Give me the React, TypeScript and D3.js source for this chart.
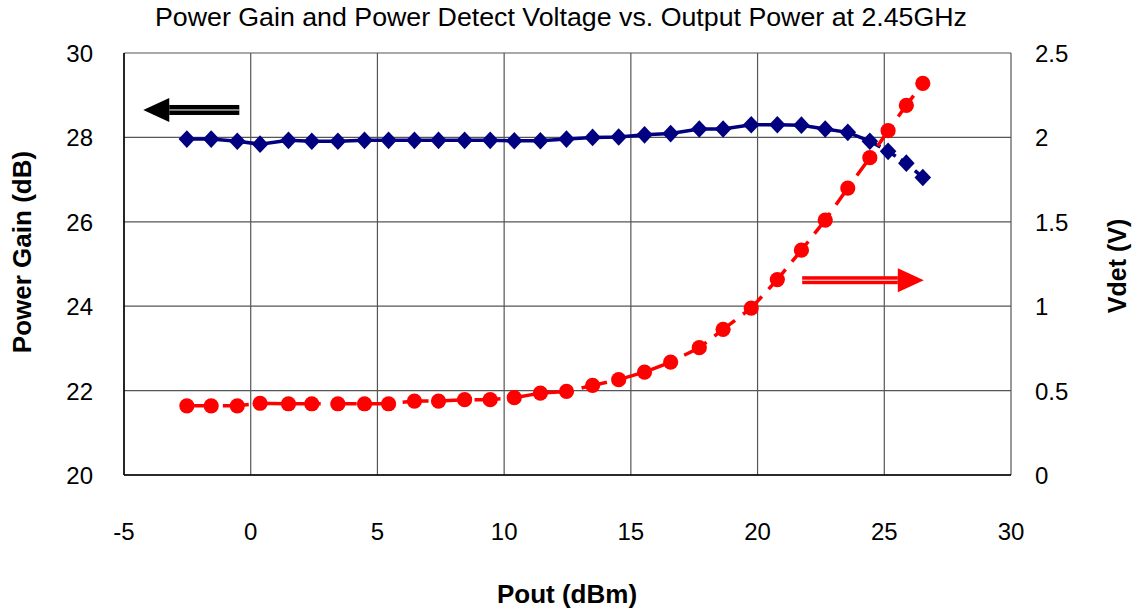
import React, { useRef, useEffect } from "react";
import * as d3 from "d3";

// output power (dBm) for each measured step
const pout = [
    -2.52, -1.56, -0.53, 0.37, 1.49, 2.41, 3.44, 4.49, 5.44, 6.46, 7.41, 8.44,
    9.45, 10.4, 11.43, 12.46, 13.49, 14.52, 15.54, 16.57, 17.7, 18.64, 19.75,
    20.78, 21.73, 22.67, 23.56, 24.43, 25.15, 25.87, 26.52,
];

// power gain (dB), left axis
const gain = [
    27.96, 27.96, 27.91, 27.84, 27.93, 27.91, 27.91, 27.93, 27.93, 27.93, 27.93,
    27.93, 27.93, 27.92, 27.92, 27.96, 28.0, 28.01, 28.06, 28.09, 28.2, 28.2,
    28.3, 28.3, 28.29, 28.2, 28.12, 27.91, 27.67, 27.39, 27.05,
];

// detector voltage (V), right axis
const vdet = [
    0.41, 0.41, 0.41, 0.425, 0.422, 0.422, 0.422, 0.422, 0.422, 0.438, 0.438,
    0.446, 0.446, 0.458, 0.485, 0.495, 0.531, 0.565, 0.61, 0.669, 0.754, 0.863,
    0.989, 1.158, 1.332, 1.51, 1.7, 1.88, 2.04, 2.19, 2.32,
];

const xTicks = [-5, 0, 5, 10, 15, 20, 25, 30];
const gainTicks = [20, 22, 24, 26, 28, 30];
const vdetTicks = [0, 0.5, 1, 1.5, 2, 2.5];

// arrow annotations, in data units
const gainArrow = { from: -0.45, to: -4.24, at: 28.65 };
const vdetArrow = { from: 21.76, to: 26.56, at: 1.154 };

const title = "Power Gain and Power Detect Voltage vs. Output Power at 2.45GHz";

export default function App() {
    const svgRef = useRef<SVGSVGElement | null>(null);

    useEffect(() => {
        if (!svgRef.current) return;

        const width = 1136;
        const height = 613;
        const margin = { top: 53, right: 125, bottom: 138, left: 124 };
        const font = "'Liberation Sans', Arial, sans-serif";

        const svg = d3.select(svgRef.current);
        svg.selectAll("*").remove();

        const x = d3
            .scaleLinear()
            .domain([-5, 30])
            .range([margin.left, width - margin.right]);
        const yL = d3
            .scaleLinear()
            .domain([20, 30])
            .range([height - margin.bottom, margin.top]);
        const yR = d3
            .scaleLinear()
            .domain([0, 2.5])
            .range([height - margin.bottom, margin.top]);

        // grid
        const grid = svg.append("g").attr("stroke", "#555").attr("stroke-width", 1.2);
        xTicks.forEach((t) => {
            grid.append("line")
                .attr("x1", x(t)).attr("x2", x(t))
                .attr("y1", yL(20)).attr("y2", yL(30));
        });
        gainTicks.forEach((t) => {
            grid.append("line")
                .attr("x1", x(-5)).attr("x2", x(30))
                .attr("y1", yL(t)).attr("y2", yL(t));
        });
        svg.append("line")
            .attr("x1", x(-5)).attr("x2", x(-5))
            .attr("y1", yL(20)).attr("y2", yL(30))
            .attr("stroke", "#000").attr("stroke-width", 1.5);
        svg.append("line")
            .attr("x1", x(-5)).attr("x2", x(30))
            .attr("y1", yL(20)).attr("y2", yL(20))
            .attr("stroke", "#000").attr("stroke-width", 1.5);

        // tick labels
        const txt = svg.append("g").attr("font-family", font).attr("font-size", 24).attr("fill", "#000");
        xTicks.forEach((t) => {
            txt.append("text")
                .attr("x", x(t)).attr("y", yL(20) + 65)
                .attr("text-anchor", "middle")
                .text(t);
        });
        gainTicks.forEach((t) => {
            txt.append("text")
                .attr("x", x(-5) - 31).attr("y", yL(t) + 9)
                .attr("text-anchor", "end")
                .text(t);
        });
        vdetTicks.forEach((t) => {
            txt.append("text")
                .attr("x", x(30) + 24).attr("y", yR(t) + 9)
                .attr("text-anchor", "start")
                .text(t);
        });

        // titles
        svg.append("text")
            .attr("x", 155).attr("y", 26)
            .attr("textLength", 812)
            .attr("lengthAdjust", "spacingAndGlyphs")
            .attr("font-family", font).attr("font-size", 25)
            .text(title);
        svg.append("text")
            .attr("x", 567).attr("y", 603)
            .attr("text-anchor", "middle")
            .attr("font-family", font).attr("font-size", 26).attr("font-weight", "bold")
            .text("Pout (dBm)");
        svg.append("text")
            .attr("transform", `translate(31,252) rotate(-90)`)
            .attr("text-anchor", "middle")
            .attr("font-family", font).attr("font-size", 26).attr("font-weight", "bold")
            .text("Power Gain (dB)");
        svg.append("text")
            .attr("transform", `translate(1126,266) rotate(-90)`)
            .attr("text-anchor", "middle")
            .attr("font-family", font).attr("font-size", 25).attr("font-weight", "bold")
            .text("Vdet (V)");

        const idx = d3.range(pout.length);

        // gain series
        const gainLine = d3.line<number>().x((i) => x(pout[i])).y((i) => yL(gain[i]));
        svg.append("path")
            .attr("d", gainLine(idx.slice(0, 28)))
            .attr("fill", "none").attr("stroke", "#000080").attr("stroke-width", 3.5);
        svg.append("path")
            .attr("d", gainLine(idx.slice(27)))
            .attr("fill", "none").attr("stroke", "#000080").attr("stroke-width", 3.5)
            .attr("stroke-dasharray", "12,6");
        svg.append("g")
            .selectAll("path")
            .data(idx)
            .join("path")
            .attr("transform", (i) => `translate(${x(pout[i])},${yL(gain[i])})`)
            .attr("d", "M0,-8.8L8.3,0L0,8.8L-8.3,0Z")
            .attr("fill", "#000080");

        // vdet series
        const vLine = d3.line<number>().x((i) => x(pout[i])).y((i) => yR(vdet[i]));
        svg.append("path")
            .attr("d", vLine(idx))
            .attr("fill", "none").attr("stroke", "#ff0000").attr("stroke-width", 3.5)
            .attr("stroke-dasharray", "26,10");
        svg.append("g")
            .selectAll("circle")
            .data(idx)
            .join("circle")
            .attr("cx", (i) => x(pout[i]))
            .attr("cy", (i) => yR(vdet[i]))
            .attr("r", 7.6)
            .attr("fill", "#ff0000");

        // arrows
        const drawArrow = (x0: number, x1: number, y: number, color: string, half: number) => {
            const dir = Math.sign(x1 - x0);
            const headStart = x1 - dir * 26;
            svg.append("rect")
                .attr("x", Math.min(x0, headStart)).attr("y", y - half)
                .attr("width", Math.abs(headStart - x0)).attr("height", half * 2)
                .attr("fill", color);
            svg.append("line")
                .attr("x1", x0).attr("x2", headStart)
                .attr("y1", y).attr("y2", y)
                .attr("stroke", "#fff").attr("stroke-width", 1);
            svg.append("path")
                .attr("d", `M${x1},${y}L${headStart},${y - 12}L${headStart},${y + 12}Z`)
                .attr("fill", color);
        };
        drawArrow(x(gainArrow.from), x(gainArrow.to), yL(gainArrow.at), "#000", 5);
        drawArrow(x(vdetArrow.from), x(vdetArrow.to), yR(vdetArrow.at), "#ff0000", 4);
    }, []);

    return (
        <svg
            ref={svgRef}
            width={1136}
            height={613}
            style={{ position: "absolute", left: 0, top: 0, background: "#fff" }}
        ></svg>
    );
}
